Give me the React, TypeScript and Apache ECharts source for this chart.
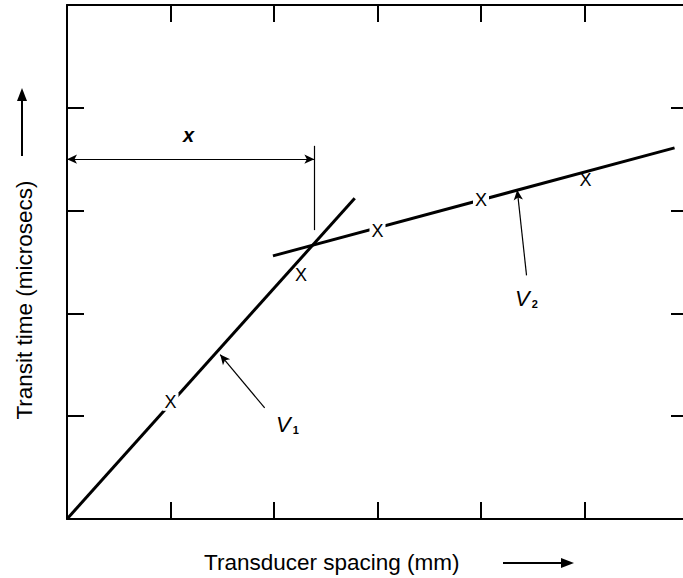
import React, { useEffect, useRef } from "react";
import * as echarts from "echarts";

// Axis extents (transducer spacing units, transit time units)
const xTicks = [0, 1, 2, 3, 4, 5, 6];
const yTicks = [0, 1, 2, 3, 4, 5];

// Fitted straight lines: direct path (V1) and refracted path (V2)
const lineV1: [number, number][] = [
  [0, 0],
  [2.78, 3.12],
];
const lineV2: [number, number][] = [
  [1.99, 2.56],
  [5.87, 3.61],
];

// Measured readings, plotted as "X"
const readingSpacing = [1.0, 2.26, 3.0, 4.0, 5.01];
const readingTime = [1.14, 2.37, 2.8, 3.1, 3.3];
// whether the fitted line is broken around the reading
const readingOnLine = [true, false, true, true, false];

// Crossover distance dimension and pointer arrows (data units)
const crossoverX = 2.39;
const dimensionY = 3.5;
const crossoverTick: [number, number] = [2.81, 3.63];
const pointerV1: [number, number][] = [
  [1.91, 1.08],
  [1.48, 1.6],
];
const pointerV2: [number, number][] = [
  [4.44, 2.37],
  [4.35, 3.2],
];

const INK = "#000";
const FONT = "Liberation Sans, Arial, sans-serif";

export default function App() {
  const ref = useRef<HTMLDivElement>(null);

  useEffect(() => {
    if (!ref.current) return;
    const chart = echarts.init(ref.current, undefined, { renderer: "svg" });

    const axisCommon = {
      type: "value" as const,
      interval: 1,
      axisLine: { show: true, onZero: false, lineStyle: { color: INK, width: 2 } },
      axisTick: { show: true, inside: true, length: 17, lineStyle: { color: INK, width: 2 } },
      axisLabel: { show: false },
      splitLine: { show: false },
    };

    const readings = readingSpacing.map((x, i) => ({
      value: [x, readingTime[i]],
      label: readingOnLine[i]
        ? { backgroundColor: "#fff", padding: [0, 2, 0, 2] }
        : { backgroundColor: "transparent", padding: 0 },
    }));

    chart.setOption({
      animation: false,
      grid: { left: 67, right: 0, top: 5, bottom: 59 },
      xAxis: [
        { ...axisCommon, min: xTicks[0], max: xTicks[xTicks.length - 1], position: "bottom" },
        { ...axisCommon, min: xTicks[0], max: xTicks[xTicks.length - 1], position: "top" },
      ],
      yAxis: [
        { ...axisCommon, min: yTicks[0], max: yTicks[yTicks.length - 1], position: "left" },
        { ...axisCommon, min: yTicks[0], max: yTicks[yTicks.length - 1], position: "right" },
      ],
      series: [
        {
          name: "V1",
          type: "line",
          data: lineV1,
          symbol: "none",
          lineStyle: { color: INK, width: 3 },
          z: 2,
          silent: true,
          markLine: {
            silent: true,
            symbolSize: [7, 10],
            label: { show: false },
            lineStyle: { color: INK, width: 1.2, type: "solid" },
            data: [
              [
                { coord: pointerV1[0], symbol: "none" },
                { coord: pointerV1[1], symbol: "arrow" },
              ],
            ],
          },
        },
        {
          name: "V2",
          type: "line",
          data: lineV2,
          symbol: "none",
          lineStyle: { color: INK, width: 3 },
          z: 2,
          silent: true,
          markLine: {
            silent: true,
            symbolSize: [7, 10],
            label: { show: false },
            lineStyle: { color: INK, width: 1.2, type: "solid" },
            data: [
              [
                { coord: pointerV2[0], symbol: "none" },
                { coord: pointerV2[1], symbol: "arrow" },
              ],
              [
                { coord: [0, dimensionY], symbol: "arrow" },
                { coord: [crossoverX, dimensionY], symbol: "arrow" },
              ],
              [
                { coord: [crossoverX, crossoverTick[1]], symbol: "none" },
                { coord: [crossoverX, crossoverTick[0]], symbol: "none" },
              ],
            ],
          },
        },
        {
          name: "readings",
          type: "scatter",
          data: readings,
          symbol: "circle",
          symbolSize: 1,
          itemStyle: { color: "#fff", opacity: 1 },
          z: 5,
          silent: true,
          label: {
            show: true,
            position: "inside",
            formatter: "X",
            color: INK,
            opacity: 1,
            textBorderWidth: 0,
            textBorderColor: "transparent",
            fontFamily: FONT,
            fontSize: 18,
            fontWeight: "normal",
          },
        },
      ],
      graphic: [
        {
          type: "text",
          left: 204,
          top: 551,
          style: {
            text: "Transducer spacing (mm)",
            fontFamily: FONT,
            fontSize: 22.5,
            fill: INK,
          },
        },
        {
          type: "line",
          shape: { x1: 503, y1: 563, x2: 564, y2: 563 },
          style: { stroke: INK, lineWidth: 2 },
        },
        {
          type: "polygon",
          shape: { points: [[561, 558], [574, 563], [561, 568]] },
          style: { fill: INK },
        },
        {
          type: "text",
          x: 24,
          y: 300,
          rotation: Math.PI / 2,
          style: {
            text: "Transit time (microsecs)",
            fontFamily: FONT,
            fontSize: 22.5,
            fill: INK,
            align: "center",
            verticalAlign: "middle",
          },
        },
        {
          type: "line",
          shape: { x1: 22, y1: 156, x2: 22, y2: 98 },
          style: { stroke: INK, lineWidth: 2 },
        },
        {
          type: "polygon",
          shape: { points: [[17, 101], [22, 88], [27, 101]] },
          style: { fill: INK },
        },
        {
          type: "text",
          left: 183,
          top: 125,
          style: {
            text: "x",
            fontFamily: FONT,
            fontSize: 20,
            fontStyle: "italic",
            fontWeight: "bold",
            fill: INK,
          },
        },
        {
          type: "text",
          left: 276,
          top: 413,
          style: {
            text: "{v|V}{s|1}",
            rich: {
              v: { fontFamily: FONT, fontSize: 22, fontStyle: "italic", color: INK },
              s: { fontFamily: FONT, fontSize: 11, fontWeight: "bold", color: INK, padding: [11, 0, 0, 2] },
            },
          },
        },
        {
          type: "text",
          left: 515,
          top: 287,
          style: {
            text: "{v|V}{s|2}",
            rich: {
              v: { fontFamily: FONT, fontSize: 22, fontStyle: "italic", color: INK },
              s: { fontFamily: FONT, fontSize: 11, fontWeight: "bold", color: INK, padding: [11, 0, 0, 2] },
            },
          },
        },
      ],
    });

    return () => chart.dispose();
  }, []);

  return (
    <div
      style={{
        position: "absolute",
        left: 0,
        top: 0,
        width: 683,
        height: 578,
        overflow: "hidden",
        background: "#fff",
      }}
    >
      <div ref={ref} style={{ width: 688, height: 578 }} />
    </div>
  );
}
